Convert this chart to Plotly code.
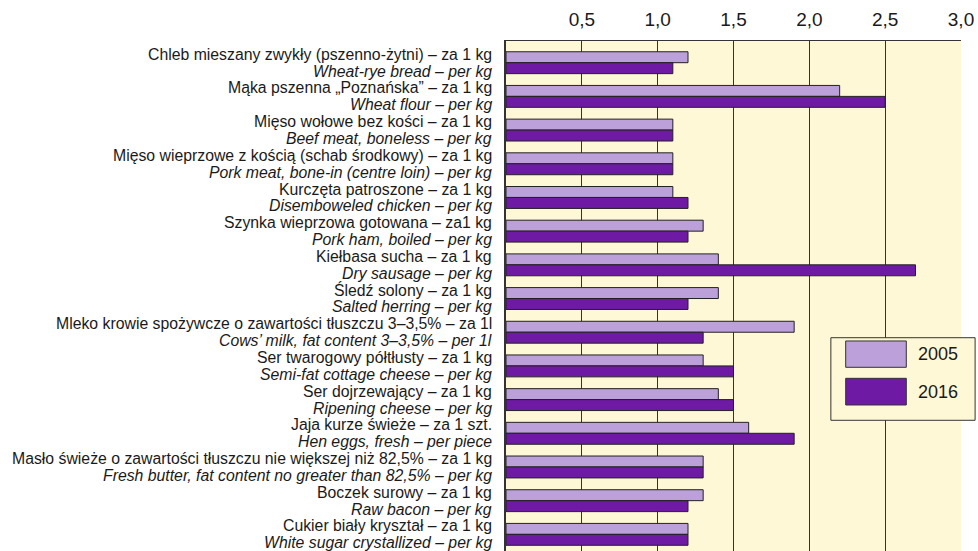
import plotly.graph_objects as go

# Series and category data
years = ["2005", "2016"]

labels_pl = [
    "Chleb mieszany zwykły (pszenno-żytni) – za 1 kg",
    "Mąka pszenna „Poznańska” – za 1 kg",
    "Mięso wołowe bez kości – za 1 kg",
    "Mięso wieprzowe z kością (schab środkowy) – za 1 kg",
    "Kurczęta patroszone – za 1 kg",
    "Szynka wieprzowa gotowana – za1 kg",
    "Kiełbasa sucha – za 1 kg",
    "Śledź solony – za 1 kg",
    "Mleko krowie spożywcze o zawartości tłuszczu 3–3,5% – za 1l",
    "Ser twarogowy półtłusty – za 1 kg",
    "Ser dojrzewający – za 1 kg",
    "Jaja kurze świeże – za 1 szt.",
    "Masło świeże o zawartości tłuszczu nie większej niż 82,5% – za 1 kg",
    "Boczek surowy – za 1 kg",
    "Cukier biały kryształ – za 1 kg",
]

labels_en = [
    "Wheat-rye bread – per kg",
    "Wheat flour – per kg",
    "Beef meat, boneless – per kg",
    "Pork meat, bone-in (centre loin) – per kg",
    "Disemboweled chicken – per kg",
    "Pork ham, boiled – per kg",
    "Dry sausage – per kg",
    "Salted herring – per kg",
    "Cows’ milk, fat content 3–3,5% – per 1l",
    "Semi-fat cottage cheese – per kg",
    "Ripening cheese – per kg",
    "Hen eggs, fresh – per piece",
    "Fresh butter, fat content no greater than 82,5% – per kg",
    "Raw bacon – per kg",
    "White sugar crystallized – per kg",
]

values_2005 = [1.2, 2.2, 1.1, 1.1, 1.1, 1.3, 1.4, 1.4, 1.9, 1.3, 1.4, 1.6, 1.3, 1.3, 1.2]
values_2016 = [1.1, 2.5, 1.1, 1.1, 1.2, 1.2, 2.7, 1.2, 1.3, 1.5, 1.5, 1.9, 1.3, 1.2, 1.2]

x_tick_values = [0.5, 1.0, 1.5, 2.0, 2.5, 3.0]
x_tick_text = ["0,5", "1,0", "1,5", "2,0", "2,5", "3,0"]

# Styling
FONT = "Liberation Sans, Arial, Helvetica, sans-serif"
TEXT_COLOR = "#1a1a1a"
PLOT_BG = "#FFF8D6"
BAR_COLORS = ["#BBA0DA", "#6E1AA5"]
EDGE = "#222222"
LABEL_SIZE = 15.8
LINE_OFFSET = 8.4

fig = go.Figure()
for year, vals, color in zip(years, [values_2005, values_2016], BAR_COLORS):
    fig.add_trace(go.Bar(
        name=year,
        y=labels_pl,
        x=vals,
        orientation="h",
        marker=dict(color=color, line=dict(color=EDGE, width=1)),
        showlegend=False,
        hoverinfo="x+y",
    ))

# Two-line category labels: Polish (upright) above English (italic)
annotations = []
for pl, en in zip(labels_pl, labels_en):
    for text, shift in ((pl, LINE_OFFSET), ("<i>" + en + "</i>", -LINE_OFFSET)):
        annotations.append(dict(
            xref="paper", yref="y", x=0, y=pl, xanchor="right", yanchor="middle",
            xshift=-13, yshift=shift, showarrow=False, text=text, borderpad=0,
            font=dict(family=FONT, size=LABEL_SIZE, color=TEXT_COLOR),
        ))

# Boxed legend with wide swatches
shapes = [
    dict(type="rect", xref="paper", yref="paper", x0=0.714, x1=1.031, y0=0.2563, y1=0.4182,
         fillcolor=PLOT_BG, line=dict(color="#333333", width=1), layer="above"),
]
legend_rows_y = [(0.3602, 0.4118), (0.2863, 0.3386)]
for (y0, y1), color, year in zip(legend_rows_y, BAR_COLORS, years):
    shapes.append(dict(type="rect", xref="paper", yref="paper", x0=0.7466, x1=0.8798,
                       y0=y0, y1=y1, fillcolor=color,
                       line=dict(color="#333333", width=1), layer="above"))
    annotations.append(dict(
        xref="paper", yref="paper", x=0.9004, y=(y0 + y1) / 2, xanchor="left",
        yanchor="middle", showarrow=False, text=year,
        font=dict(family=FONT, size=18, color=TEXT_COLOR),
    ))

fig.update_layout(
    width=978,
    height=551,
    margin=dict(l=506, r=17, t=41, b=0, pad=0),
    paper_bgcolor="white",
    plot_bgcolor=PLOT_BG,
    barmode="group",
    bargap=0.35,
    bargroupgap=0,
    separators=", ",
    font=dict(family=FONT, color=TEXT_COLOR),
    annotations=annotations,
    shapes=shapes,
    xaxis=dict(
        side="top",
        range=[0, 3.0],
        tickvals=x_tick_values,
        ticktext=x_tick_text,
        tickfont=dict(family=FONT, size=19, color=TEXT_COLOR),
        ticks="",
        ticklabelstandoff=6,
        showgrid=True,
        gridcolor="#333333",
        gridwidth=1,
        showline=True,
        linecolor="#333333",
        linewidth=1,
        zeroline=False,
        fixedrange=True,
    ),
    yaxis=dict(
        type="category",
        categoryorder="array",
        categoryarray=labels_pl,
        range=[14.494, -0.644],
        showticklabels=False,
        ticks="",
        showgrid=False,
        showline=True,
        linecolor="#333333",
        linewidth=2,
        zeroline=False,
        fixedrange=True,
    ),
)

fig.write_html("out.html")
